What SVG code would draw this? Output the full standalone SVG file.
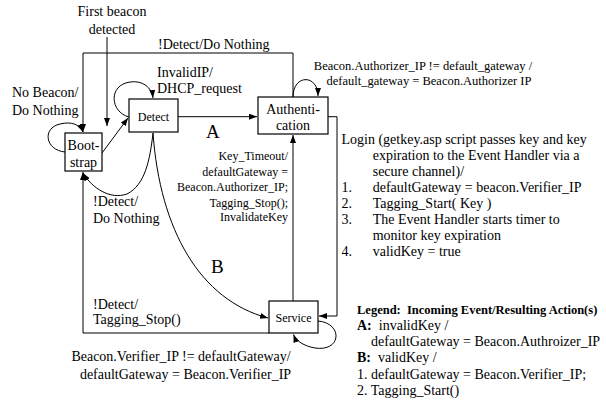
<svg xmlns="http://www.w3.org/2000/svg" width="606" height="404" viewBox="0 0 606 404">
<style>
text{font-family:"Liberation Serif","Times New Roman",serif;fill:#000}
.t14{font-size:14px}
.t12{font-size:12px}
.t125{font-size:12.5px}
.big{font-size:19px}
.box{fill:#fff;stroke:#000;stroke-width:1.2}
.c{fill:none;stroke:#000;stroke-width:1}
.b{font-weight:bold}
</style>
<defs>
<marker id="ah" markerWidth="9" markerHeight="7" refX="8" refY="3" orient="auto" markerUnits="userSpaceOnUse">
<path d="M0,0 L8,3 L0,6 z" fill="#000"/>
</marker>
</defs>
<g id="connectors">
<path class="c" d="M293,97 V53 H83 V132" marker-end="url(#ah)"/>
<path class="c" d="M107,37 V126" marker-end="url(#ah)"/>
<path class="c" d="M65,152 C45,150 42,128 60,124 C72,121 80,125 83,132" marker-end="url(#ah)"/>
<path class="c" d="M102,153 L128,118" marker-end="url(#ah)"/>
<path class="c" d="M129,117 C110,112 108,85 130,82 C143,80 152,88 153,98" marker-end="url(#ah)"/>
<path class="c" d="M178,116.7 H257" marker-end="url(#ah)"/>
<path class="c" d="M153,133 C150,160 145,185 127,194 C110,200 92,188 83,173" marker-end="url(#ah)"/>
<path class="c" d="M153,133 C160,230 200,300 268,318" marker-end="url(#ah)"/>
<path class="c" d="M269,333 H83 V172" marker-end="url(#ah)"/>
<path class="c" d="M293,301 V135" marker-end="url(#ah)"/>
<path class="c" d="M328,116.7 H337 V316 H319" marker-end="url(#ah)"/>
<path class="c" d="M293,97 C293,74 318,74 318,96" marker-end="url(#ah)"/>
<path class="c" d="M318,321 C343,323 342,352 315,348 C304,346 296,341 293.5,334.5" marker-end="url(#ah)"/>
</g>
<g id="bootstrap">
<rect class="box" x="65" y="133" width="37" height="38"/>
<text class="t14" x="83.5" y="150" text-anchor="middle">Boot-</text>
<text class="t14" x="83.5" y="167" text-anchor="middle">strap</text>
</g>
<g id="detect">
<rect class="box" x="129" y="99" width="49" height="33"/>
<text class="t12" x="153.5" y="121" text-anchor="middle">Detect</text>
</g>
<g id="authentication">
<rect class="box" x="258" y="97" width="70" height="37"/>
<text class="t14" x="293" y="114" text-anchor="middle">Authenti-</text>
<text class="t14" x="293" y="130" text-anchor="middle">cation</text>
</g>
<g id="service">
<rect class="box" x="269" y="301" width="49" height="32"/>
<text class="t12" x="293.5" y="322" text-anchor="middle">Service</text>
</g>
<g id="labels">
<text class="t14" x="112" y="16" text-anchor="middle">First beacon</text>
<text class="t14" x="112" y="34" text-anchor="middle">detected</text>
<text class="t14" x="158" y="49">!Detect/Do Nothing</text>
<text class="t14" x="12" y="97">No Beacon/</text>
<text class="t14" x="12" y="115">Do Nothing</text>
<text class="t14" x="157" y="77">InvalidIP/</text>
<text class="t14" x="157" y="93">DHCP_request</text>
<text class="big" x="206" y="137.5">A</text>
<text class="big" x="211" y="272.5">B</text>
<text class="t12" x="288" y="160" text-anchor="end">Key_Timeout/</text>
<text class="t12" x="288" y="175.7" text-anchor="end">defaultGateway =</text>
<text class="t12" x="288" y="191.3" text-anchor="end">Beacon.Authorizer_IP;</text>
<text class="t12" x="288" y="206.7" text-anchor="end">Tagging_Stop();</text>
<text class="t12" x="288" y="220.7" text-anchor="end">InvalidateKey</text>
<text class="t14" x="93" y="206">!Detect/</text>
<text class="t14" x="93" y="223">Do Nothing</text>
<text class="t14" x="93" y="309">!Detect/</text>
<text class="t14" x="93" y="324">Tagging_Stop()</text>
<text class="t14" x="181" y="361" text-anchor="middle">Beacon.Verifier_IP != defaultGateway/</text>
<text class="t14" x="185.5" y="378.5" text-anchor="middle">defaultGateway = Beacon.Verifier_IP</text>
<text class="t125" x="423" y="69.5" text-anchor="middle">Beacon.Authorizer_IP != default_gateway /</text>
<text class="t125" x="429" y="85" text-anchor="middle">default_gateway = Beacon.Authorizer IP</text>
<text class="t14" x="341.5" y="143.5">Login (getkey.asp script passes key and key</text>
<text class="t14" x="372.7" y="159.5">expiration to the Event Handler via a</text>
<text class="t14" x="372.7" y="175.5">secure channel)/</text>
<text class="t14" x="341.5" y="191.5">1.</text>
<text class="t14" x="372.7" y="191.5">defaultGateway = beacon.Verifier_IP</text>
<text class="t14" x="341.5" y="207.5">2.</text>
<text class="t14" x="372.7" y="207.5">Tagging_Start( Key )</text>
<text class="t14" x="341.5" y="223.5">3.</text>
<text class="t14" x="372.7" y="223.5">The Event Handler starts timer to</text>
<text class="t14" x="372.7" y="239.5">monitor key expiration</text>
<text class="t14" x="341.5" y="255.5">4.</text>
<text class="t14" x="372.7" y="255.5">validKey = true</text>
</g>
<g id="legend">
<text class="t125 b" x="357" y="313.5" xml:space="preserve">Legend:  Incoming Event/Resulting Action(s)</text>
<text class="t14" x="357" y="329.5" xml:space="preserve"><tspan class="b">A:</tspan>  invalidKey /</text>
<text class="t14" x="371" y="345.5">defaultGateway = Beacon.Authroizer_IP</text>
<text class="t14" x="357" y="362" xml:space="preserve"><tspan class="b">B:</tspan>  validKey /</text>
<text class="t14" x="357" y="378.5">1. defaultGateway = Beacon.Verifier_IP;</text>
<text class="t14" x="357" y="395">2. Tagging_Start()</text>
</g>
</svg>
